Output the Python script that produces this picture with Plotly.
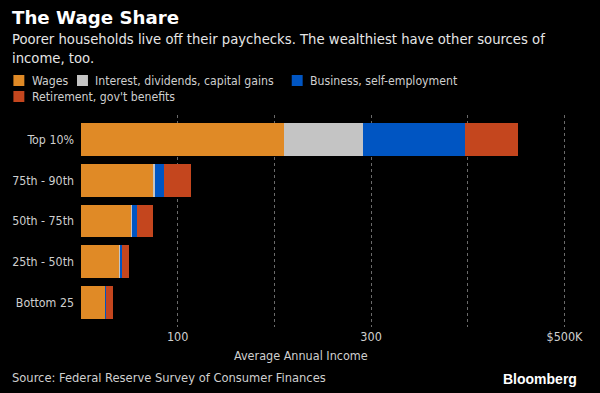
import plotly.graph_objects as go

# ---- data ($K average annual income) ----
categories = ["Bottom 25", "25th - 50th", "50th - 75th", "75th - 90th", "Top 10%"]
wages = [25.5, 40.3, 52.2, 74.2, 210.0]
interest = [0.3, 0.2, 0.7, 2.8, 82.0]
business = [0.4, 1.8, 5.1, 9.2, 105.0]
retirement = [7.4, 7.5, 16.4, 27.4, 55.0]

series_names = ["Wages", "Interest, dividends, capital gains", "Business, self-employment",
                "Retirement, gov't benefits"]
series_values = [wages, interest, business, retirement]
series_colors = ["#E08A26", "#C4C4C4", "#0055C2", "#C4461E"]

tick_vals = [100, 200, 300, 400, 500]
tick_text = ["100", "", "300", "", "$500K"]

# ---- layout geometry (pixels) ----
W, H = 600, 393
ML, MR, MT, MB = 78, 21, 115, 66
PW, PH = W - ML - MR, H - MT - MB

def px(x):
    return (x - ML) / PW

def py(y):
    return 1 - (y - MT) / PH

FONT = "DejaVu Sans Condensed"
TXT = "#cfcfcf"

fig = go.Figure()
for name, vals, col in zip(series_names, series_values, series_colors):
    fig.add_trace(go.Bar(y=categories, x=vals, name=name, orientation="h",
                         marker=dict(color=col, line=dict(width=0)), showlegend=False))

# manual legend
legend_pos = [(10, 80.5), (74, 80.5), (290, 80.5), (10, 96.5)]
text_off = 16.5
for (lx, ly), name, col in zip(legend_pos, series_names, series_colors):
    fig.add_shape(type="rect", xref="paper", yref="paper",
                  x0=px(lx), x1=px(lx + 11), y0=py(ly - 5.5), y1=py(ly + 5.5),
                  fillcolor=col, line=dict(width=0))
    fig.add_annotation(xref="paper", yref="paper", x=px(lx + text_off), y=py(ly),
                       text=name, showarrow=False, xanchor="left", yanchor="middle",
                       font=dict(family=FONT, size=12.2, color=TXT))

# title / subtitle
fig.add_annotation(xref="paper", yref="paper", x=px(7), y=py(17.5), text="<b>The Wage Share</b>",
                   showarrow=False, xanchor="left", yanchor="middle",
                   font=dict(family="DejaVu Sans", size=18.2, color="white"))
fig.add_annotation(xref="paper", yref="paper", x=px(6.5), y=py(48),
                   text="Poorer households live off their paychecks. The wealthiest have other sources of<br>income, too.",
                   showarrow=False, xanchor="left", yanchor="middle", align="left",
                   font=dict(family=FONT, size=14.7, color="#e6e6e6"))

# axis title, source, logo
fig.add_annotation(xref="paper", yref="paper", x=px(299), y=py(355), text="Average Annual Income",
                   showarrow=False, xanchor="center", yanchor="middle",
                   font=dict(family=FONT, size=12.5, color=TXT))
fig.add_annotation(xref="paper", yref="paper", x=px(6.5), y=py(377),
                   text="Source: Federal Reserve Survey of Consumer Finances",
                   showarrow=False, xanchor="left", yanchor="middle",
                   font=dict(family=FONT, size=12.8, color=TXT))
fig.add_annotation(xref="paper", yref="paper", x=px(579), y=py(379), text="<b>Bloomberg</b>",
                   showarrow=False, xanchor="right", yanchor="middle",
                   font=dict(family="Liberation Sans", size=14, color="white"))

fig.update_layout(
    width=W, height=H, autosize=False,
    margin=dict(l=ML, r=MR, t=MT, b=MB, pad=0),
    paper_bgcolor="black", plot_bgcolor="black",
    barmode="stack", bargap=0.2,
    showlegend=False,
    font=dict(family=FONT, color=TXT),
    xaxis=dict(range=[0, 515], tickvals=tick_vals, ticktext=tick_text,
               showgrid=True, gridcolor="#6a6a6a", griddash="dot", gridwidth=1,
               zeroline=False, showline=False, ticks="",
               tickfont=dict(family=FONT, size=12.5, color=TXT)),
    yaxis=dict(range=[-0.6, 4.6], categoryorder="array", categoryarray=categories,
               showgrid=False, zeroline=False, showline=False, ticks="",
               ticklabelstandoff=6,
               tickfont=dict(family=FONT, size=12.3, color=TXT)),
)

fig.write_html("out.html", config={"displayModeBar": False},
               post_script="document.body.style.margin='0';document.body.style.background='black';")
